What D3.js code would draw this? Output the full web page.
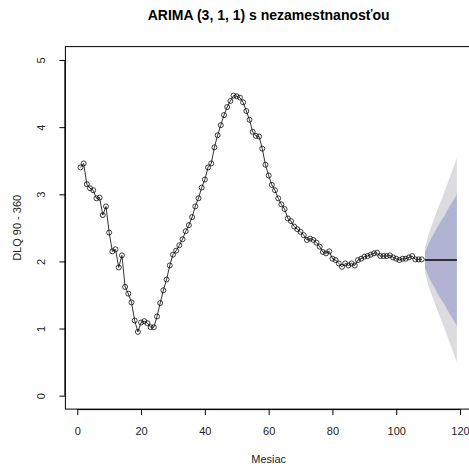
<!DOCTYPE html>
<html>
<head>
<meta charset="utf-8">
<script src="https://cdn.jsdelivr.net/npm/d3@7"></script>
<style>
  html, body { margin: 0; padding: 0; background: #fff; }
  svg { display: block; font-family: "Liberation Sans", Arial, sans-serif; }
</style>
</head>
<body>
<svg id="chart" width="469" height="466"></svg>
<script>
// Observed monthly DLQ 90-360 values (months 1..108)
const months = d3.range(1, 109);
const observed = [
  3.40, 3.46, 3.15, 3.09, 3.06, 2.94, 2.95, 2.69, 2.82, 2.43,
  2.15, 2.18, 1.91, 2.09, 1.62, 1.52, 1.39, 1.12, 0.95, 1.09,
  1.11, 1.08, 1.02, 1.02, 1.18, 1.38, 1.57, 1.73, 1.94, 2.10,
  2.16, 2.24, 2.33, 2.45, 2.54, 2.66, 2.82, 2.94, 3.10, 3.22,
  3.40, 3.46, 3.70, 3.88, 4.03, 4.18, 4.30, 4.39, 4.47, 4.46,
  4.44, 4.37, 4.24, 4.11, 3.93, 3.87, 3.86, 3.68, 3.44, 3.28,
  3.14, 3.06, 2.94, 2.85, 2.78, 2.64, 2.60, 2.52, 2.48, 2.44,
  2.39, 2.32, 2.34, 2.32, 2.28, 2.22, 2.14, 2.12, 2.15, 2.04,
  2.02, 1.97, 1.92, 1.97, 1.94, 1.97, 1.94, 2.02, 2.04, 2.07,
  2.08, 2.10, 2.12, 2.13, 2.08, 2.08, 2.08, 2.09, 2.06, 2.04,
  2.02, 2.04, 2.04, 2.06, 2.08, 2.03, 2.03, 2.03
];

// Forecast horizon (months 109..119): point forecast and 80% / 95% intervals
const fcMonths = d3.range(109, 120);
const fcMean  = [2.02, 2.02, 2.02, 2.02, 2.02, 2.02, 2.02, 2.02, 2.02, 2.02, 2.02];
const lo80 = [1.90, 1.79, 1.69, 1.61, 1.52, 1.44, 1.37, 1.28, 1.20, 1.12, 1.04];
const hi80 = [2.14, 2.25, 2.35, 2.43, 2.52, 2.60, 2.67, 2.76, 2.84, 2.92, 3.00];
const lo95 = [1.84, 1.66, 1.52, 1.39, 1.26, 1.14, 1.02, 0.89, 0.76, 0.63, 0.50];
const hi95 = [2.20, 2.38, 2.52, 2.65, 2.78, 2.90, 3.02, 3.15, 3.28, 3.41, 3.54];

const xTicks = [0, 20, 40, 60, 80, 100, 120];
const yTicks = [0, 1, 2, 3, 4, 5];

const titleText = "ARIMA (3, 1, 1) s nezamestnanosťou";
const xLabel = "Mesiac";
const yLabel = "DLQ 90 - 360";

const svg = d3.select("#chart");
const W = 469, H = 466;

// Plot region: R-style 4% padding around the data range
const xMin = 1, xMax = 119;
const xPad = (xMax - xMin) * 0.04;
const x = d3.scaleLinear().domain([xMin - xPad, xMax + xPad]).range([65.4, 471.9]);
const y = d3.scaleLinear().domain([-0.2, 5.2]).range([409.1, 46.6]);

const plotL = x.range()[0], plotR = x.range()[1];
const plotT = y.range()[1], plotB = y.range()[0];

svg.append("rect").attr("width", W).attr("height", H).attr("fill", "#fff");

// Prediction interval bands
const fc = fcMonths.map((m, i) => ({ m, mean: fcMean[i], lo80: lo80[i], hi80: hi80[i], lo95: lo95[i], hi95: hi95[i] }));
const band = (lo, hi) => d3.area().x(d => x(d.m)).y0(d => y(d[lo])).y1(d => y(d[hi]));

svg.append("path").datum(fc).attr("d", band("lo95", "hi95")).attr("fill", "#dbdbe0");
svg.append("path").datum(fc).attr("d", band("lo80", "hi80")).attr("fill", "#b0b4d2");

// Observed series: line plus open circles
const obs = months.map((m, i) => ({ m, v: observed[i] }));
svg.append("path").datum(obs)
  .attr("d", d3.line().x(d => x(d.m)).y(d => y(d.v)))
  .attr("fill", "none").attr("stroke", "#000").attr("stroke-width", 0.8);

svg.append("g").selectAll("circle").data(obs).join("circle")
  .attr("cx", d => x(d.m)).attr("cy", d => y(d.v)).attr("r", 2.5)
  .attr("fill", "none").attr("stroke", "#000").attr("stroke-width", 0.75);

// Point forecast
svg.append("path").datum(fc)
  .attr("d", d3.line().x(d => x(d.m)).y(d => y(d.mean)))
  .attr("fill", "none").attr("stroke", "#000").attr("stroke-width", 1.6);

// Frame
svg.append("rect").attr("x", plotL).attr("y", plotT)
  .attr("width", plotR - plotL).attr("height", plotB - plotT)
  .attr("fill", "none").attr("stroke", "#000").attr("stroke-width", 1);

// Axes
const xAxis = d3.axisBottom(x).tickValues(xTicks).tickSize(6).tickPadding(12).tickFormat(d3.format("d"));
const gx = svg.append("g").attr("transform", `translate(0,${plotB})`).call(xAxis);
gx.select(".domain").attr("d", `M${x(0)},0.5H${x(120)}`);

const yAxis = d3.axisLeft(y).tickValues(yTicks).tickSize(6).tickFormat(d3.format("d"));
const gy = svg.append("g").attr("transform", `translate(${plotL},0)`).call(yAxis);
gy.select(".domain").attr("d", `M-0.5,${y(0)}V${y(5)}`);
gy.selectAll(".tick text")
  .attr("x", null).attr("dy", null)
  .attr("transform", "translate(-24,0) rotate(-90)")
  .attr("text-anchor", "middle")
  .attr("y", 4);

[gx, gy].forEach(g => {
  g.selectAll("text").attr("font-size", 11).attr("fill", "#222")
    .attr("font-family", "Liberation Sans, Arial, sans-serif");
  g.selectAll("line, .domain").attr("stroke", "#000");
});

// Titles
const cx = (plotL + plotR) / 2;
svg.append("text").attr("x", cx).attr("y", 20).attr("text-anchor", "middle")
  .attr("font-size", 14).attr("font-weight", "bold").attr("fill", "#000").text(titleText);
svg.append("text").attr("x", cx).attr("y", 463).attr("text-anchor", "middle")
  .attr("font-size", 11).attr("fill", "#222").text(xLabel);
svg.append("text").attr("transform", `translate(21,${(plotT + plotB) / 2}) rotate(-90)`)
  .attr("text-anchor", "middle").attr("font-size", 11).attr("fill", "#222").text(yLabel);
</script>
</body>
</html>
